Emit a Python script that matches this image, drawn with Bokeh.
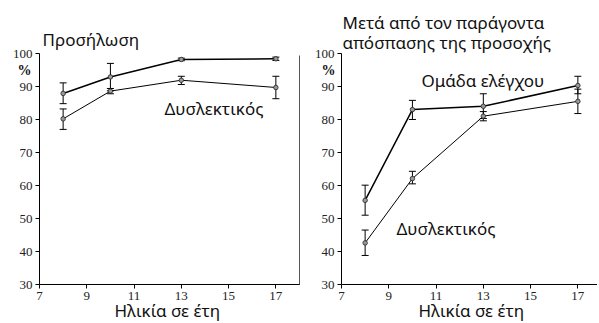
from bokeh.plotting import figure
from bokeh.layouts import row
from bokeh.models import (Whisker, ColumnDataSource, FixedTicker, Label, TeeHead,
                          LinearAxis)
from bokeh.embed import file_html
from bokeh.resources import INLINE

# ---- data ----
ages = [8, 10, 13, 17]
xticks = [7, 9, 11, 13, 15, 17]
yticks = [30, 40, 50, 60, 70, 80, 90, 100]

att_ctrl = [87.9, 92.9, 98.2, 98.4]
att_ctrl_lo = [84.8, 88.7, 97.8, 97.9]
att_ctrl_hi = [91.1, 97.0, 98.6, 98.9]
att_dys = [80.2, 88.6, 91.9, 89.7]
att_dys_lo = [77.0, 87.8, 90.6, 86.3]
att_dys_hi = [83.2, 89.4, 93.1, 93.1]

dis_ctrl = [55.5, 83.0, 84.0, 90.3]
dis_ctrl_lo = [51.0, 80.0, 80.3, 87.8]
dis_ctrl_hi = [60.1, 85.8, 87.8, 93.1]
dis_dys = [42.6, 62.1, 81.0, 85.5]
dis_dys_lo = [38.8, 60.5, 79.6, 81.8]
dis_dys_hi = [46.5, 64.3, 82.4, 89.2]

title_left = "Προσήλωση"
title_right = ["Μετά από τον παράγοντα", "απόσπασης της προσοχής"]
xlabel = "Ηλικία σε έτη"
lab_dys = "Δυσλεκτικός"
lab_ctrl = "Ομάδα ελέγχου"

# ---- geometry (page pixels) ----
ORIGIN_Y = 1
H = 321
XPX = 260 / 11.0       # pixels per year
YPX = 231 / 70.0       # pixels per percent
Y30 = 285              # page y of the 30 % line
TXT_SHIFT = 6.5        # baseline correction
SANS = "Noto Sans"
SERIF = "serif"


def make_fig(page_left, width, axis_px, right_line=None):
    x_start = 7 - (axis_px - page_left) / XPX
    x_end = 7 + (page_left + width - axis_px) / XPX
    y_end = 30 + (Y30 - ORIGIN_Y) / YPX
    y_start = 30 - (ORIGIN_Y + H - Y30) / YPX
    p = figure(width=width, height=H, x_range=(x_start, x_end), y_range=(y_start, y_end),
               output_backend="svg", toolbar_location=None,
               x_axis_location=None, y_axis_location=None,
               min_border=0, min_border_left=0, min_border_right=0,
               min_border_top=0, min_border_bottom=0)
    p.title.visible = False
    p.outline_line_color = None
    for g in p.grid:
        g.visible = False
    p.background_fill_color = "white"
    p.border_fill_color = "white"

    yax = LinearAxis(fixed_location=7, bounds=(30, 100), ticker=FixedTicker(ticks=yticks))
    xax = LinearAxis(fixed_location=30, bounds=(7, x_end), ticker=FixedTicker(ticks=xticks))
    for ax in (xax, yax):
        ax.axis_line_color = "black"
        ax.axis_line_width = 1
        ax.major_tick_line_color = "black"
        ax.major_tick_out = 4
        ax.major_tick_in = 0
        ax.minor_tick_line_color = None
        ax.major_label_text_font = SERIF
        ax.major_label_text_font_size = "13px"
        ax.major_label_text_color = "#222222"
        ax.major_label_standoff = 3
    p.add_layout(yax, "left")
    p.add_layout(xax, "below")
    if right_line is not None:
        rax = LinearAxis(fixed_location=right_line, bounds=(30, 99.3),
                         ticker=FixedTicker(ticks=[]))
        rax.axis_line_color = "#555555"
        rax.major_tick_line_color = None
        rax.minor_tick_line_color = None
        rax.major_label_text_color = None
        p.add_layout(rax, "right")
    return p


def add_series(p, y, lo, hi, lw):
    src = ColumnDataSource(dict(x=ages, y=y, lo=lo, hi=hi))
    p.line("x", "y", source=src, line_color="black", line_width=lw)
    w = Whisker(base="x", lower="lo", upper="hi", source=src,
                line_color="black", line_width=1,
                upper_head=TeeHead(size=7, line_color="black", line_width=1),
                lower_head=TeeHead(size=7, line_color="black", line_width=1))
    p.add_layout(w)
    p.scatter("x", "y", source=src, size=4.5, fill_color="#999999",
              line_color="#222222", line_width=0.8)


def add_text(p, axis_px, px, py, text, size="17px", font=SANS,
             style="normal", align="left"):
    x = 7 + (px - axis_px) / XPX
    y = 30 + (Y30 - (py - TXT_SHIFT)) / YPX
    p.add_layout(Label(x=x, y=y, text=text, text_font=font, text_font_size=size,
                       text_font_style=style, text_color="#111111",
                       text_align=align, text_baseline="alphabetic"))


# left panel: page x 1..301, y axis at page x 40
p1 = make_fig(1, 300, 40, right_line=18.0)
add_series(p1, att_ctrl, att_ctrl_lo, att_ctrl_hi, 1.5)
add_series(p1, att_dys, att_dys_lo, att_dys_hi, 1)
add_text(p1, 40, 43, 46, title_left)
add_text(p1, 40, 165, 115, lab_dys)
add_text(p1, 40, 115, 317, xlabel)
add_text(p1, 40, 25, 77.5, "%", size="14px", font=SERIF, style="bold", align="center")

# right panel: page x 301..598, y axis at page x 342
p2 = make_fig(301, 297, 342)
add_series(p2, dis_ctrl, dis_ctrl_lo, dis_ctrl_hi, 1.5)
add_series(p2, dis_dys, dis_dys_lo, dis_dys_hi, 1)
add_text(p2, 342, 343, 29, title_right[0])
add_text(p2, 342, 343, 49, title_right[1])
add_text(p2, 342, 422, 87, lab_ctrl)
add_text(p2, 342, 397, 235, lab_dys)
add_text(p2, 342, 419, 317, xlabel)
add_text(p2, 342, 329, 77.5, "%", size="14px", font=SERIF, style="bold", align="center")

layout = row(p1, p2)
open("out.html", "w").write(file_html(layout, INLINE))
